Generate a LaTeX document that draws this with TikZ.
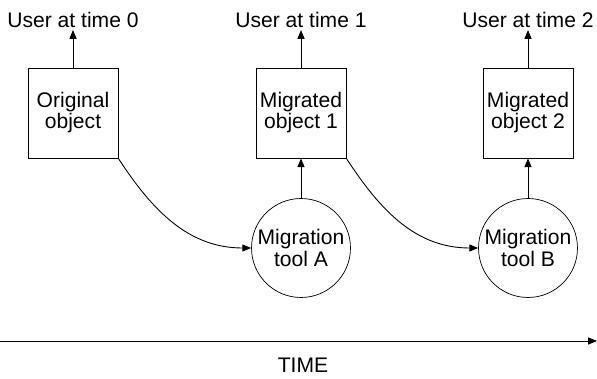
\documentclass[tikz,border=0pt]{standalone}
\usepackage{fontspec}
\setmainfont{Liberation Sans}
\usepackage{tikz}
\usetikzlibrary{
    shapes.geometric,
    arrows.meta
}

\begin{document}
\begin{tikzpicture}[x=0.02cm, y=0.02cm, font=\fontsize{12}{12}\selectfont,
    objbox/.style={draw=black, fill=white, minimum size=1.8cm, align=center, inner sep=0pt},
    toolcirc/.style={draw=black, fill=white, circle, minimum size=1.98cm, align=center, inner sep=0pt},
    userlbl/.style={anchor=south, inner sep=1pt},
    conn/.style={-{Triangle[length=5pt, width=4pt]}, line width=0.5pt}]
        \useasboundingbox (0,0) rectangle (597,378);

        \node [objbox] (orig) at (73, 265) {Original\\object};
        \node [objbox] (mig1) at (301, 265) {Migrated\\object 1};
        \node [objbox] (mig2) at (528, 265) {Migrated\\object 2};

        \node [toolcirc] (toolA) at (301, 130) {Migration\\tool A};
        \node [toolcirc] (toolB) at (528, 130) {Migration\\tool B};

        \node [userlbl] (user0) at (73, 348) {User at time 0};
        \node [userlbl] (user1) at (301, 348) {User at time 1};
        \node [userlbl] (user2) at (528, 348) {User at time 2};

        \draw [conn] (orig) -- (user0);
        \draw [conn] (mig1) -- (user1);
        \draw [conn] (mig2) -- (user2);
        \draw [conn] (toolA) -- (mig1);
        \draw [conn] (toolB) -- (mig2);
        \draw [conn] (orig.south east) to [out=-57, in=180] (toolA.west);
        \draw [conn] (mig1.south east) to [out=-57, in=180] (toolB.west);

        \coordinate (tstart) at (0, 37);
        \coordinate (tend) at (597, 37);
        \draw [conn] (tstart) -- (tend);
        \node (timelbl) at (303, 13) {TIME};
    \end{tikzpicture}
\end{document}
